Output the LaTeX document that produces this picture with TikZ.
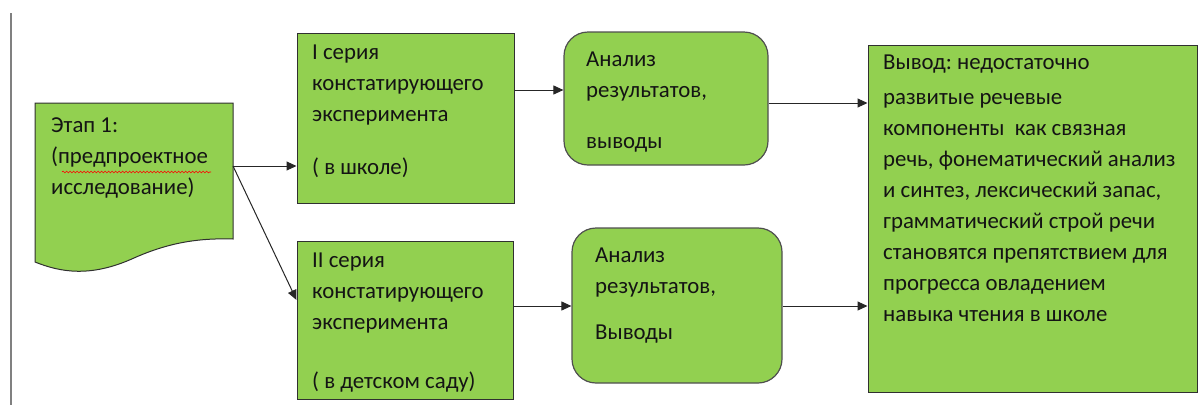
\documentclass[tikz,border=0pt]{standalone}
\usepackage{fontspec}
\setmainfont{Carlito}
\usetikzlibrary{arrows.meta,decorations.pathmorphing}
\definecolor{boxgreen}{HTML}{92D050}
\definecolor{edge}{HTML}{303030}
\frenchspacing
\tikzset{
  sqbox/.style={draw=edge, line width=1pt, fill=boxgreen},
  rbox/.style={draw=edge!85, line width=1.2pt, fill=boxgreen, rounded corners=24pt},
  txt/.style={anchor=north west, align=left, inner sep=0pt, text=black!92,
              font=\fontsize{22.8}{31}\selectfont},
  conn/.style={draw=black!85, line width=1pt, -{Triangle[length=10pt,width=9pt]}},
}
\begin{document}
\begin{tikzpicture}[x=1pt,y=-1pt]
\useasboundingbox (0,0) rectangle (1202,405);
% left margin line
\draw[gray, line width=1.5pt] (11,13) -- (11,405);

% document shape (stage 1)
\node[minimum width=198pt, minimum height=150pt, inner sep=0pt] (doc) at (134,180) {};
\filldraw[sqbox] (35,103) -- (233,103) -- (233,239)
  .. controls (200,238) and (170,242) .. (134,258)
  .. controls (90,278) and (60,272) .. (35,262) -- cycle;
\node[txt] (doctxt) at (51,117) {Этап 1:\\(предпроектное\\исследование)};
\draw[red, line width=0.6pt, decorate, decoration={snake, amplitude=0.9pt, segment length=3.5pt}]
  (62,172) -- (211,172);
\coordinate (docout) at (233,166);

% series boxes
\node[sqbox, minimum width=217pt, minimum height=170pt, inner sep=0pt] (s1) at (405.5,118) {};
\node[txt] (s1t) at (312,45) {I серия\\констатирующего\\эксперимента\\[22pt]( в школе)};
\node[sqbox, minimum width=216pt, minimum height=158pt, inner sep=0pt] (s2) at (405,320) {};
\node[txt] (s2t) at (312,253) {II серия\\констатирующего\\эксперимента\\[28pt]( в детском саду)};

% analysis boxes
\node[rbox, minimum width=204pt, minimum height=133pt, inner sep=0pt] (a1) at (666,98.5) {};
\node[txt] (a1t) at (586,52) {Анализ\\результатов,\\[20pt]выводы};
\node[rbox, minimum width=210pt, minimum height=155pt, inner sep=0pt] (a2) at (677,305.5) {};
\node[txt] (a2t) at (595,248) {Анализ\\результатов,\\[15pt]Выводы};

% conclusion
\node[sqbox, minimum width=329pt, minimum height=347pt, inner sep=0pt] (c) at (1032.5,218.5) {};
\node[txt] (ct) at (883,55) {Вывод: недостаточно\\[4pt]развитые речевые\\компоненты~~как связная\\речь, фонематический анализ\\и синтез, лексический запас,\\грамматический строй речи\\становятся препятствием для\\прогресса овладением\\навыка чтения в школе};

% connectors
\coordinate (d2) at (s2.west |- 0,300);
\draw[conn] (docout) -- (docout -| s1.west);
\draw[conn] (docout) -- (d2);
\coordinate (y1) at (0,90);
\draw[conn] (s1.east |- y1) -- (a1.west |- y1);
\coordinate (y2) at (0,306);
\draw[conn] (s2.east |- y2) -- (a2.west |- y2);
\coordinate (y3) at (0,103);
\draw[conn] (a1.east |- y3) -- (c.west |- y3);
\draw[conn] (a2.east |- y2) -- (c.west |- y2);
\end{tikzpicture}
\end{document}
